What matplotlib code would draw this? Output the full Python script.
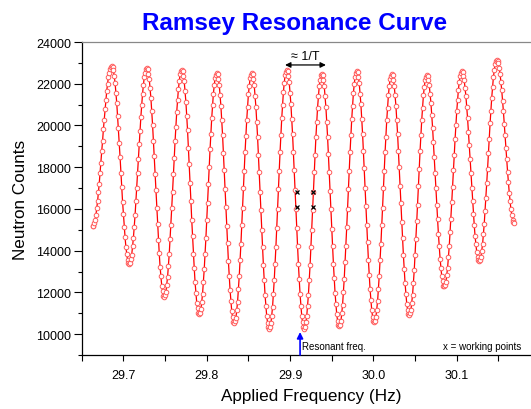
import numpy as np
import matplotlib
matplotlib.use("Agg")
import matplotlib.pyplot as plt
from matplotlib.ticker import MultipleLocator, FormatStrFormatter, FixedLocator

plt.rcParams['font.family'] = ['Liberation Sans', 'DejaVu Sans']

# Scan grid (Hz)
freq_start = 29.663
freq_step = 0.001

# Neutron counts, one value per scan step
counts = [
    15160, 15200, 15330, 15480, 15690, 16040, 16360, 16800, 17210, 17740, 18200, 18760,
    19250, 19810, 20280, 20800, 21210, 21650, 21980, 22320, 22530, 22730, 22810, 22860,
    22790, 22660, 22370, 22050, 21570, 21090, 20460, 19860, 19140, 18490, 17730, 17070,
    16350, 15760, 15120, 14650, 14170, 13850, 13550, 13430, 13360,
    13400, 13590, 13810, 14200, 14600, 15150, 15690, 16370, 16990, 17730, 18390, 19130,
    19750, 20430, 20970, 21530, 21920, 22310, 22530, 22720, 22760,
    22710, 22490, 22240, 21790, 21320, 20670, 20040, 19260, 18520, 17670, 16890, 16040,
    15300, 14520, 13880, 13240, 12770, 12320, 12060, 11840, 11800,
    11880, 12020, 12360, 12730, 13270, 13830, 14540, 15230, 16050, 16810, 17660, 18420,
    19240, 19930, 20650, 21200, 21740, 22110, 22450, 22600, 22670,
    22620, 22390, 22110, 21630, 21130, 20440, 19760, 18930, 18140, 17220, 16400, 15480,
    14690, 13860, 13180, 12490, 11990, 11510, 11230, 11000, 10950,
    11030, 11190, 11540, 11940, 12520, 13110, 13860, 14600, 15470, 16280, 17190, 18000,
    18870, 19610, 20360, 20960, 21530, 21930, 22280, 22440, 22520,
    22460, 22230, 21950, 21460, 20940, 20240, 19540, 18690, 17880, 16950, 16100, 15170,
    14360, 13500, 12810, 12110, 11590, 11100, 10810, 10580, 10530,
    10610, 10780, 11140, 11550, 12150, 12770, 13540, 14310, 15210, 16050, 16990, 17830,
    18730, 19490, 20270, 20890, 21490, 21900, 22260, 22430, 22510,
    22450, 22220, 21920, 21430, 20890, 20180, 19460, 18600, 17770, 16820, 15950, 15000,
    14170, 13300, 12590, 11870, 11340, 10850, 10550, 10320, 10260,
    10340, 10520, 10890, 11320, 11930, 12580, 13380, 14180, 15100, 15980, 16940, 17820,
    18740, 19540, 20340, 20990, 21600, 22030, 22400, 22580, 22660,
    22600, 22370, 22060, 21570, 21020, 20310, 19580, 18710, 17860, 16910, 16020, 15070,
    14220, 13350, 12620, 11900, 11360, 10870, 10560, 10330, 10270,
    10320, 10560, 10860, 11350, 11880, 12590, 13300, 14160, 14990, 15930, 16810, 17750,
    18580, 19440, 20150, 20860, 21390, 21880, 22190, 22410, 22470,
    22410, 22180, 21890, 21400, 20870, 20170, 19460, 18610, 17790, 16850, 15990, 15050,
    14230, 13380, 12670, 11960, 11440, 10950, 10650, 10420, 10370,
    10450, 10620, 10990, 11410, 12020, 12650, 13450, 14230, 15140, 16000, 16960, 17830,
    18740, 19520, 20310, 20950, 21550, 21980, 22340, 22520, 22600,
    22540, 22310, 22020, 21530, 21010, 20310, 19610, 18760, 17940, 17010, 16150, 15220,
    14400, 13550, 12850, 12140, 11620, 11140, 10840, 10610, 10560,
    10640, 10810, 11170, 11570, 12170, 12790, 13560, 14320, 15210, 16050, 16980, 17820,
    18710, 19470, 20250, 20860, 21450, 21870, 22220, 22390, 22470,
    22410, 22190, 21910, 21450, 20950, 20270, 19600, 18780, 18000, 17100, 16280, 15380,
    14600, 13780, 13110, 12430, 11930, 11460, 11180, 10960, 10910,
    10990, 11150, 11500, 11890, 12470, 13060, 13810, 14540, 15400, 16210, 17120, 17930,
    18790, 19520, 20270, 20860, 21440, 21830, 22180, 22340, 22420,
    22370, 22180, 21930, 21520, 21090, 20490, 19900, 19190, 18500, 17710, 17000, 16210,
    15520, 14800, 14220, 13620, 13190, 12770, 12530, 12330, 12290,
    12360, 12500, 12820, 13170, 13690, 14210, 14890, 15540, 16320, 17040, 17850, 18570,
    19350, 20000, 20680, 21200, 21720, 22080, 22380, 22530, 22600,
    22550, 22380, 22160, 21790, 21400, 20870, 20340, 19690, 19080, 18370, 17720, 17010,
    16400, 15750, 15220, 14690, 14300, 13920, 13700, 13530, 13490,
    13560, 13690, 13990, 14310, 14800, 15290, 15920, 16530, 17260, 17930, 18700, 19370,
    20100, 20710, 21340, 21830, 22320, 22650, 22940, 23070, 23140,
    23090, 22980, 22740, 22470, 22080, 21680, 21170, 20670, 20080, 19540, 18920, 18380,
    17780, 17290, 16780, 16380, 15980, 15720, 15480, 15370, 15320,
]

# Tick positions shown in the reference
x_major_ticks = [29.7, 29.8, 29.9, 30.0, 30.1]
x_minor_ticks = [29.65, 29.75, 29.85, 29.95, 30.05, 30.15]

# Working points (x markers)
work_freq = [29.908, 29.908, 29.928, 29.928]
work_counts = [16800, 16070, 16800, 16070]

resonant_freq = 29.912
period_left = 29.894
period_right = 29.943

freq = freq_start + freq_step * np.arange(len(counts))

fig = plt.figure(figsize=(5.31, 4.10), dpi=100)
ax = fig.add_axes([0.1539, 0.1317, 0.8632, 0.7634])

ax.plot(freq, counts, '-', color='red', lw=0.9, zorder=2)
ax.plot(freq, counts, 'o', ls='none', ms=3.3, mfc='white', mec=(1.0, 0.35, 0.35),
        mew=0.7, zorder=3)
ax.plot(work_freq, work_counts, 'x', ls='none', color='black', ms=3.5, mew=0.9, zorder=4)

ax.set_xlim(29.65, 30.2)
ax.set_ylim(9000, 24000)

ax.xaxis.set_major_locator(FixedLocator(x_major_ticks))
ax.xaxis.set_minor_locator(FixedLocator(x_minor_ticks))
ax.xaxis.set_major_formatter(FormatStrFormatter('%.1f'))
ax.yaxis.set_major_locator(MultipleLocator(2000))
ax.yaxis.set_minor_locator(MultipleLocator(1000))
ax.yaxis.set_major_formatter(FormatStrFormatter('%d'))

ax.tick_params(axis='both', which='both', direction='out', labelsize=9, width=0.8,
               top=False, right=False)
ax.tick_params(axis='y', which='major', length=5.5, pad=2)
ax.tick_params(axis='y', which='minor', length=3)
ax.tick_params(axis='x', which='major', length=4, pad=6)
ax.tick_params(axis='x', which='minor', length=4)

for s in ['left', 'bottom']:
    ax.spines[s].set_color('black')
    ax.spines[s].set_linewidth(0.9)
ax.spines['top'].set_color('#888888')
ax.spines['top'].set_linewidth(0.9)
ax.spines['right'].set_visible(False)

ax.set_xlabel('Applied Frequency (Hz)', fontsize=12.3, labelpad=5)
ax.set_ylabel('Neutron Counts', fontsize=12.3, labelpad=6)

fig.text(0.554, 0.943, 'Ramsey Resonance Curve', ha='center', va='center',
         fontsize=17.5, fontweight='bold', color='#0000ff')

# 1/T double arrow
ax.annotate('', xy=(period_left, 22900), xytext=(period_right, 22900),
            arrowprops=dict(arrowstyle='<|-|>', color='black', lw=0.9,
                            mutation_scale=8, shrinkA=0, shrinkB=0))
ax.text((period_left + period_right) / 2, 23330, '\u2248 1/T', ha='center',
        va='center', fontsize=9)

# Resonant frequency arrow
ax.annotate('', xy=(resonant_freq, 10100), xytext=(resonant_freq, 9000),
            arrowprops=dict(arrowstyle='-|>', color='#0000ff', lw=1.2,
                            mutation_scale=9, shrinkA=0, shrinkB=0))
ax.text(resonant_freq + 0.002, 9430, 'Resonant freq.', ha='left', va='center',
        fontsize=7)
ax.text(30.177, 9430, 'x = working points', ha='right', va='center', fontsize=7)

fig.savefig('out.png', dpi=100)
